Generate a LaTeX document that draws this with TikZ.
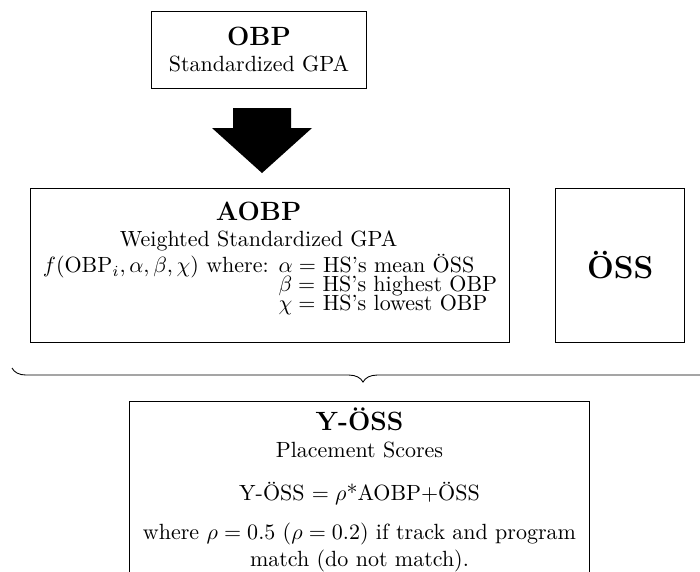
\documentclass[tikz,border=0pt]{standalone}
\usepackage{amsmath,amssymb}
\usepackage{tikz}
\usetikzlibrary{positioning,calc,decorations.pathreplacing}

\newlength\betawd
\newlength\aobpgap
\newcommand\aobpwhere{$f(\mathrm{OBP}_i,\alpha,\beta,\chi)$ where: }

\begin{document}
% widths used to line up alpha, beta and chi
\settowidth\betawd{$\beta=$ HS's highest OBP}%
\settowidth\aobpgap{$\alpha=$ HS's mean ÖSS}%
\setlength\aobpgap{-\aobpgap}%
\addtolength\aobpgap{\betawd}%
\begin{tikzpicture}[
  x=0.4545pt, y=-0.4545pt,
  box/.style={draw, inner sep=3pt, align=flush center},
  bigarrow/.style={fill=black},
  bracket/.style={decorate, decoration={brace, mirror, amplitude=6.4pt}}
]
\useasboundingbox (0,0) rectangle (700,571);
\node[box, minimum width=98pt, minimum height=35pt] (obp) at (259,49.5)
  {{\large\bfseries OBP}\\ Standardized GPA};
\node[box, minimum width=218pt, minimum height=70pt] (aobp) at (270,265)
  {{\large\bfseries AOBP}\rule{\aobpgap}{0pt}\\
   Weighted Standardized GPA\rule{\aobpgap}{0pt}\\
   \aobpwhere$\alpha=$ HS's mean ÖSS\rule{\aobpgap}{0pt}\\[-3.4pt]
   \phantom{\aobpwhere}$\beta=$ HS's highest OBP\\[-3.4pt]
   \phantom{\aobpwhere}\makebox[\betawd][l]{$\chi=$ HS's lowest OBP}\rule[-8pt]{0pt}{0pt}};
\node[box, minimum width=58.6pt, minimum height=70pt, right=20.5pt of aobp, font=\Large\bfseries] (oss) {ÖSS};
\node[box, text width=206pt, inner xsep=1.5pt, anchor=north] (yoss) at (359.5,401)
  {{\large\bfseries Y-ÖSS}\\
   Placement Scores\\[7.5pt]
   Y-ÖSS $=\rho$*AOBP$+$ÖSS\\[6pt]
   where $\rho=0.5$ ($\rho=0.2$) if track and program match (do not match).};
% arrow from OBP down to AOBP
\fill[bigarrow] (233,108) -- (291,108) -- (291,128) -- (312,128) -- (262,173)
  -- (212,128) -- (233,128) -- cycle;
% brace over AOBP and OSS
\coordinate (braceL) at (12,368);
\coordinate (braceR) at (714,368);
\draw[bracket] (braceL) -- (braceR);
\end{tikzpicture}
\end{document}
